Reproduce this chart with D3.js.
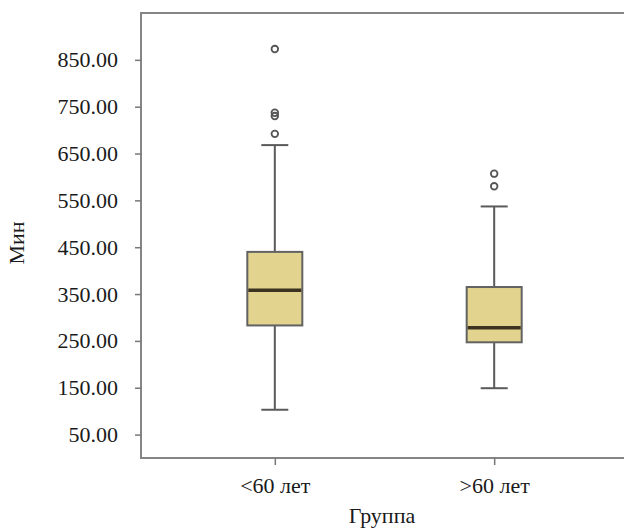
<!DOCTYPE html>
<meta charset="utf-8">
<script src="https://d3js.org/d3.v7.min.js"></script>
<style>
  body { margin: 0; background: #fff; }
  text { font-family: "Liberation Serif", "Times New Roman", serif; fill: #1a1a1a; }
</style>
<div id="chart"></div>
<script>

// groups and box statistics
var groups = ["<60 лет", ">60 лет"];
var whiskerLow = [103, 149];
var q1 = [283, 247];
var median = [358, 278];
var q3 = [440, 365];
var whiskerHigh = [668, 537];
var outliers = [[873, 737, 730, 692], [607, 580]];
var yTicks = [50, 150, 250, 350, 450, 550, 650, 750, 850];

var W = 624, H = 532;
var plot = {left: 141, top: 13, right: 628, bottom: 458};

var svg = d3.select("#chart").append("svg")
    .attr("width", W)
    .attr("height", H);

var y = d3.scaleLinear()
    .domain([0, 950])
    .range([plot.bottom, plot.top]);

var x = d3.scalePoint()
    .domain(groups)
    .range([plot.left, plot.right])
    .padding(0.61);

var boxW = 55, capW = 27;

// frame
svg.append("rect")
    .attr("x", plot.left)
    .attr("y", plot.top)
    .attr("width", plot.right - plot.left)
    .attr("height", plot.bottom - plot.top)
    .attr("fill", "#fff")
    .attr("stroke", "#858585")
    .attr("stroke-width", 2);

// y axis
var yAxis = svg.append("g")
    .attr("transform", "translate(" + plot.left + ",0)")
    .call(d3.axisLeft(y).tickValues(yTicks).tickSize(6).tickPadding(17)
      .tickFormat(function(d) { return d3.format(".2f")(d); }));
yAxis.select(".domain").remove();
yAxis.selectAll("line").attr("stroke", "#777").attr("stroke-width", 1.5);
yAxis.selectAll("text").attr("font-size", 22).style("font-family", "Liberation Serif");

// x axis
var xAxis = svg.append("g")
    .attr("transform", "translate(0," + plot.bottom + ")")
    .call(d3.axisBottom(x).tickSize(7).tickPadding(12));
xAxis.select(".domain").remove();
xAxis.selectAll("line").attr("stroke", "#777").attr("stroke-width", 1.5);
xAxis.selectAll("text").attr("font-size", 22).style("font-family", "Liberation Serif");

// axis titles
svg.append("text")
    .attr("transform", "translate(24,243) rotate(-90)")
    .attr("text-anchor", "middle")
    .attr("font-size", 22)
    .text("Мин");

svg.append("text")
    .attr("x", 382)
    .attr("y", 523)
    .attr("text-anchor", "middle")
    .attr("font-size", 22)
    .text("Группа");

// boxes
var boxes = svg.append("g")
  .selectAll("g")
  .data(groups)
  .enter().append("g");

boxes.append("line")
    .attr("x1", function(d) { return x(d); })
    .attr("x2", function(d) { return x(d); })
    .attr("y1", function(d, i) { return y(whiskerLow[i]); })
    .attr("y2", function(d, i) { return y(whiskerHigh[i]); })
    .attr("stroke", "#5a5a5a")
    .attr("stroke-width", 2);

boxes.append("line")
    .attr("x1", function(d) { return x(d) - capW / 2; })
    .attr("x2", function(d) { return x(d) + capW / 2; })
    .attr("y1", function(d, i) { return y(whiskerHigh[i]); })
    .attr("y2", function(d, i) { return y(whiskerHigh[i]); })
    .attr("stroke", "#5a5a5a")
    .attr("stroke-width", 2);

boxes.append("line")
    .attr("x1", function(d) { return x(d) - capW / 2; })
    .attr("x2", function(d) { return x(d) + capW / 2; })
    .attr("y1", function(d, i) { return y(whiskerLow[i]); })
    .attr("y2", function(d, i) { return y(whiskerLow[i]); })
    .attr("stroke", "#5a5a5a")
    .attr("stroke-width", 2);

boxes.append("rect")
    .attr("x", function(d) { return x(d) - boxW / 2; })
    .attr("y", function(d, i) { return y(q3[i]); })
    .attr("width", boxW)
    .attr("height", function(d, i) { return y(q1[i]) - y(q3[i]); })
    .attr("fill", "#e2d48f")
    .attr("stroke", "#626262")
    .attr("stroke-width", 2);

boxes.append("line")
    .attr("x1", function(d) { return x(d) - boxW / 2 + 1; })
    .attr("x2", function(d) { return x(d) + boxW / 2 - 1; })
    .attr("y1", function(d, i) { return y(median[i]); })
    .attr("y2", function(d, i) { return y(median[i]); })
    .attr("stroke", "#3b3220")
    .attr("stroke-width", 3.5);

// outliers
boxes.selectAll("circle")
  .data(function(d, i) { return outliers[i].map(function(v) { return {g: d, v: v}; }); })
  .enter().append("circle")
    .attr("cx", function(d) { return x(d.g); })
    .attr("cy", function(d) { return y(d.v); })
    .attr("r", 3.3)
    .attr("fill", "none")
    .attr("stroke", "#555")
    .attr("stroke-width", 1.8);

</script>
